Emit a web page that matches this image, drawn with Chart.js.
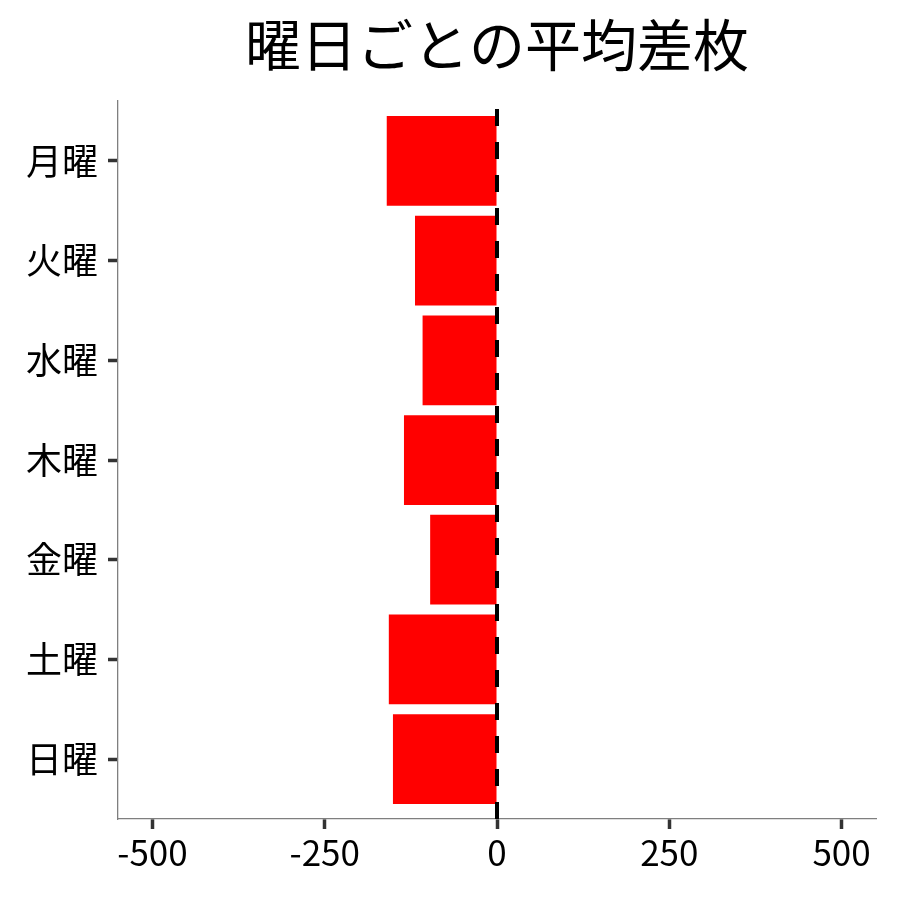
<!DOCTYPE html>
<html lang="ja">
<head>
<meta charset="utf-8">
<title>曜日ごとの平均差枚</title>
<script src="https://cdn.jsdelivr.net/npm/chart.js@4/dist/chart.umd.min.js"></script>
<style>
  html, body { margin: 0; padding: 0; background: #fff; }
  #wrap { width: 900px; height: 900px; }
</style>
</head>
<body>
<div id="wrap"><canvas id="diffChart" width="900" height="900"></canvas></div>
<script>
// 曜日
const days = ['月曜', '火曜', '水曜', '木曜', '金曜', '土曜', '日曜'];
// 平均差枚
const avgDiff = [-160, -119, -108, -135, -97, -157, -151];
// x軸の目盛
const xTicks = [-500, -250, 0, 250, 500];

const FONT = "'Noto Sans CJK JP', 'Noto Sans', sans-serif";

// タイトル（プロット領域の中央に描く）
const titlePlugin = {
  id: 'plotTitle',
  afterDraw(chart) {
    const ctx = chart.ctx;
    const area = chart.chartArea;
    ctx.save();
    ctx.fillStyle = '#000';
    ctx.font = '56px ' + FONT;
    ctx.textAlign = 'center';
    ctx.textBaseline = 'middle';
    ctx.fillText('曜日ごとの平均差枚', (area.left + area.right) / 2, 45);
    ctx.restore();
  }
};

// 0 の位置に破線
const zeroLine = {
  id: 'zeroLine',
  afterDatasetsDraw(chart) {
    const ctx = chart.ctx;
    const area = chart.chartArea;
    const x = chart.scales.x.getPixelForValue(0);
    ctx.save();
    ctx.strokeStyle = '#000';
    ctx.lineWidth = 4;
    ctx.setLineDash([17, 16]);
    ctx.beginPath();
    ctx.moveTo(x, area.bottom);
    ctx.lineTo(x, area.top);
    ctx.stroke();
    ctx.restore();
  }
};

const config = {
  type: 'bar',
  data: {
    datasets: [{
      label: '平均差枚',
      data: avgDiff.map((v, i) => ({ x: v, y: i + 1 })),
      backgroundColor: '#ff0000',
      borderWidth: 0,
      categoryPercentage: 0.9,
      barPercentage: 1.0
    }]
  },
  options: {
    indexAxis: 'y',
    responsive: false,
    animation: false,
    layout: { padding: { left: 0, top: 101, right: 24, bottom: 0 } },
    plugins: {
      legend: { display: false },
      tooltip: { enabled: false }
    },
    scales: {
      x: {
        type: 'linear',
        min: -550,
        max: 550,
        afterBuildTicks(scale) {
          scale.ticks = xTicks.map(v => ({ value: v }));
        },
        afterFit(scale) { scale.height = 81; },
        ticks: {
          color: '#000',
          padding: 3,
          font: { family: FONT, size: 35 },
          callback: v => String(v)
        },
        grid: {
          drawOnChartArea: false,
          tickLength: 10,
          tickWidth: 3.5,
          tickColor: '#333'
        },
        border: { display: true, color: '#7f7f7f', width: 1.3 }
      },
      y: {
        type: 'linear',
        reverse: true,
        offset: false,
        min: 0.4,
        max: 7.6,
        afterBuildTicks(scale) {
          scale.ticks = days.map((d, i) => ({ value: i + 1 }));
        },
        afterFit(scale) { scale.width = 118; },
        ticks: {
          color: '#000',
          padding: 10,
          font: { family: FONT, size: 36 },
          callback: v => days[v - 1]
        },
        grid: {
          offset: false,
          drawOnChartArea: false,
          tickLength: 10,
          tickWidth: 3.5,
          tickColor: '#333'
        },
        border: { display: true, color: '#7f7f7f', width: 1.3 }
      }
    }
  },
  plugins: [titlePlugin, zeroLine]
};

document.addEventListener('DOMContentLoaded', function () {
  const ctx = document.getElementById('diffChart').getContext('2d');
  new Chart(ctx, config);
});
</script>
</body>
</html>
